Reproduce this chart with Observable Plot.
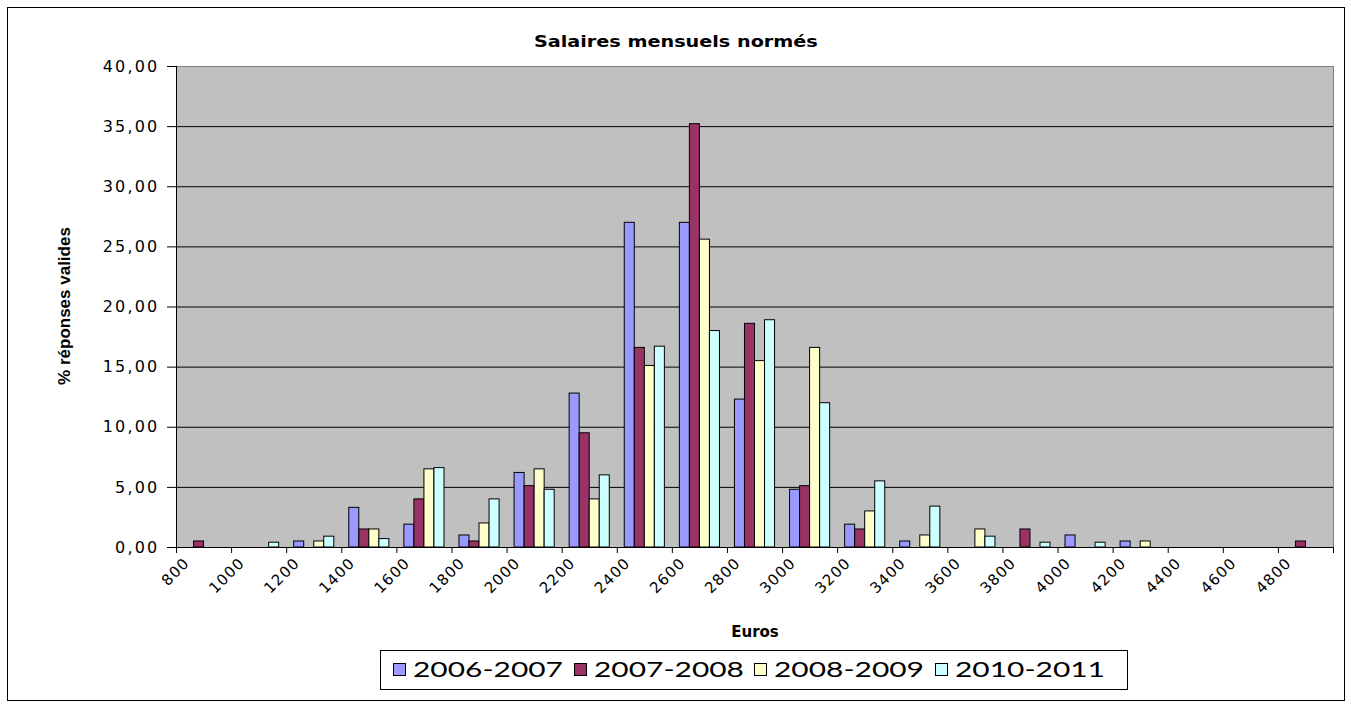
<!DOCTYPE html>
<html>
<head>
<meta charset="utf-8">
<script src="https://cdn.jsdelivr.net/npm/d3@7"></script>
<script src="https://cdn.jsdelivr.net/npm/@observablehq/plot@0.6"></script>
<style>
  body { margin: 0; background: #fff; }
  #wrap { position: relative; width: 1351px; height: 704px; overflow: hidden; background: #fff; }
  #border { position: absolute; left: 7px; top: 7px; width: 1336px; height: 692px; border: 1px solid #000; pointer-events: none; }
  #title { position: absolute; left: 0; top: 33px; width: 1351px; text-align: center; font: bold 15px "DejaVu Sans"; color: #000; }
  #title span { display: inline-block; transform: scaleX(1.28); }
  #legend { position: absolute; left: 380px; top: 650px; width: 748px; height: 40px; border: 1px solid #000; box-sizing: border-box; background: #fff; }
  .item { position: absolute; top: 0; height: 38px; }
  .sw { position: absolute; top: 12px; width: 13px; height: 13px; border: 1px solid #000; box-sizing: border-box; }
  .lab { position: absolute; top: 4px; left: 20px; font: 22px Lato; color: #000; white-space: nowrap; transform: scaleX(1.36); transform-origin: left center; }
  #chart { position: absolute; left: 0; top: 0; }
  #chart g[aria-label="y-axis tick label"] text { letter-spacing: 2.2px; font-size: 16px; }
  #chart g[aria-label="x-axis tick label"] text { letter-spacing: 1.2px; font-size: 15px; }
</style>
</head>
<body>
<div id="wrap">
  <div id="chart"></div>
  <div id="title"><span>Salaires mensuels normés</span></div>
  <div id="legend"></div>
  <div id="border"></div>
</div>
<script>
// ---- data ----
const categories = ["800","1000","1200","1400","1600","1800","2000","2200","2400","2600","2800","3000","3200","3400","3600","3800","4000","4200","4400","4600","4800"];
const seriesNames = ["2006-2007", "2007-2008", "2008-2009", "2010-2011"];
const colors = ["#9999FF", "#993366", "#FFFFCC", "#CCFFFF"];
const s2006_2007 = [0, 0, 0.5, 3.3, 1.9, 1.0, 6.2, 12.8, 27.0, 27.0, 12.3, 4.8, 1.9, 0.5, 0, 0, 1.0, 0.5, 0, 0, 0];
const s2007_2008 = [0.5, 0, 0, 1.5, 4.0, 0.5, 5.1, 9.5, 16.6, 35.2, 18.6, 5.1, 1.5, 0, 0, 1.5, 0, 0, 0, 0, 0.5];
const s2008_2009 = [0, 0, 0.5, 1.5, 6.5, 2.0, 6.5, 4.0, 15.1, 25.6, 15.5, 16.6, 3.0, 1.0, 1.5, 0, 0, 0.5, 0, 0, 0];
const s2010_2011 = [0, 0.4, 0.9, 0.7, 6.6, 4.0, 4.8, 6.0, 16.7, 18.0, 18.9, 12.0, 5.5, 3.4, 0.9, 0.4, 0.4, 0, 0, 0, 0];
const yTicks = [0, 5, 10, 15, 20, 25, 30, 35, 40];
const seriesValues = [s2006_2007, s2007_2008, s2008_2009, s2010_2011];

// ---- layout helpers (category slot = 1 unit on x) ----
const gap = 0.272;                       // gap between groups
const barW = (1 - gap) / seriesNames.length;
const rows = seriesNames.flatMap((name, s) =>
  seriesValues[s].map((v, i) => ({name, s, i, v}))
).filter(d => d.v > 0);

const fmt = d => d.toFixed(2).replace(".", ",");

const chart = Plot.plot({
  width: 1351,
  height: 704,
  marginLeft: 176,
  marginRight: 18,
  marginTop: 66,
  marginBottom: 157,
  style: {fontFamily: "DejaVu Sans", fontSize: "15px", color: "#000", background: "transparent", overflow: "visible"},
  x: {type: "linear", domain: [0, categories.length]},
  y: {domain: [0, 40]},
  color: {domain: seriesNames, range: colors},
  marks: [
    Plot.frame({fill: "#C0C0C0", stroke: "#808080"}),
    Plot.ruleY(yTicks.filter(t => t > 0 && t < 40), {stroke: "#000", strokeWidth: 1}),
    Plot.rect(rows, {
      x1: d => d.i + gap / 2 + d.s * barW,
      x2: d => d.i + gap / 2 + (d.s + 1) * barW,
      y1: d => 0,
      y2: "v",
      fill: "name",
      stroke: "#000",
      strokeWidth: 1
    }),
    Plot.ruleX([0], {stroke: "#000"}),
    Plot.ruleY([0], {stroke: "#000"}),
    Plot.axisY({ticks: yTicks, tickFormat: fmt, tickSize: 9, tickPadding: 8, label: null, fontSize: 16}),
    Plot.axisX({ticks: d3.range(categories.length + 1), tickSize: 6, tickFormat: () => "", label: null}),
    Plot.axisX({
      ticks: categories.map((c, i) => i + 0.5),
      tickSize: 0, tickPadding: 13, tickRotate: -45, dx: -17,
      tickFormat: v => categories[Math.floor(v)],
      label: null, fontSize: 15
    }),
    Plot.text(["% réponses valides"], {
      frameAnchor: "left", dx: -112, dy: -1, rotate: -90, textAnchor: "middle", lineAnchor: "middle",
      fontFamily: "Liberation Sans", fontWeight: "bold", fontSize: 17, letterSpacing: -0.6
    }),
    Plot.text(["Euros"], {
      frameAnchor: "bottom", dy: 85, textAnchor: "middle", lineAnchor: "middle",
      fontFamily: "DejaVu Sans", fontWeight: "bold", fontSize: 15
    })
  ]
});
document.getElementById("chart").appendChild(chart);

// legend
const legend = document.getElementById("legend");
seriesNames.forEach((name, s) => {
  const item = document.createElement("div");
  item.className = "item";
  item.style.left = (12 + s * 180.5) + "px";
  const sw = document.createElement("div");
  sw.className = "sw";
  sw.style.background = colors[s];
  const lab = document.createElement("span");
  lab.className = "lab";
  lab.textContent = name;
  item.appendChild(sw);
  item.appendChild(lab);
  legend.appendChild(item);
});
</script>
</body>
</html>
